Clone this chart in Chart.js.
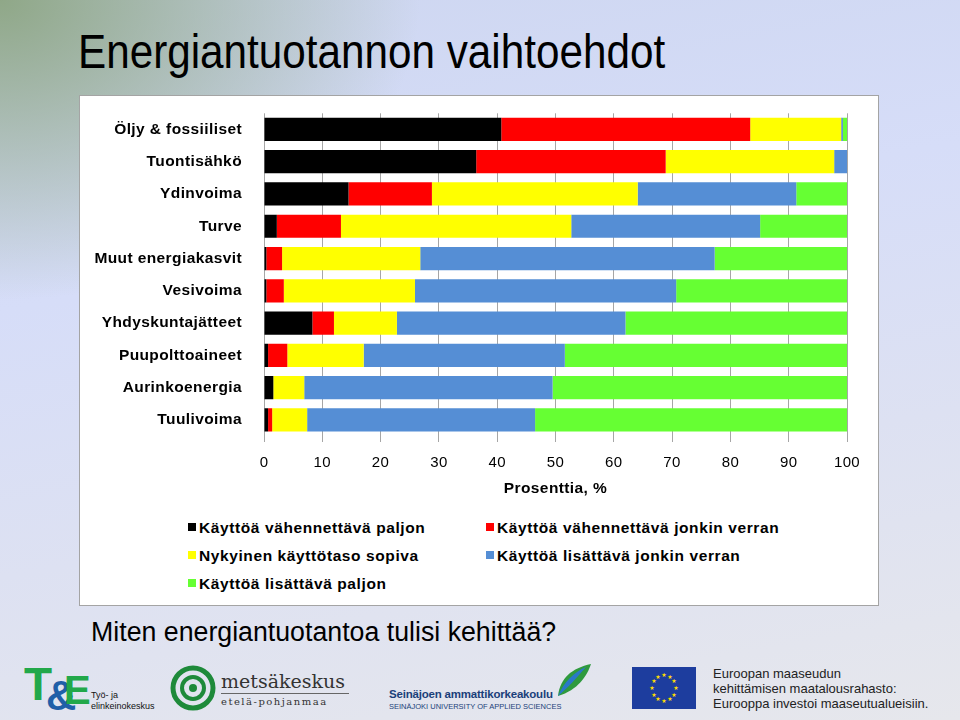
<!DOCTYPE html>
<html>
<head>
<meta charset="utf-8">
<script src="https://cdn.jsdelivr.net/npm/chart.js@4/dist/chart.umd.min.js"></script>
<style>
  body { margin: 0; }
  #slide {
    position: relative; width: 960px; height: 720px; overflow: hidden;
    font-family: "Liberation Sans", Arial, sans-serif;
    background:
      radial-gradient(ellipse 420px 300px at 0px 0px, rgba(140,165,130,0.95), rgba(160,180,170,0) 100%),
      linear-gradient(170deg, #cdd6f0 0%, #d6ddf8 35%, #dde1f2 65%, #e6e7ec 100%);
  }
  #title {
    position: absolute; left: 78px; top: 24px; font-size: 48px; color: #000;
    transform: scaleX(0.88); transform-origin: left top; white-space: nowrap;
  }
  #box {
    position: absolute; left: 79px; top: 95px; width: 798px; height: 509px;
    background: #fff; border: 1px solid #a4a4a4;
  }
  #chartWrap { position: absolute; left: 0; top: -6px; width: 798px; height: 408px; }
  #legend {
    position: absolute; left: 0; top: 423px; width: 798px; height: 85px;
    font-weight: bold; font-size: 15.5px; letter-spacing: 0.6px; color: #000;
  }
  .li { position: absolute; white-space: nowrap; line-height: 18px; }
  .li span.m { display: inline-block; width: 8px; height: 8px; margin-right: 3px; vertical-align: 2px; }
  #sub {
    position: absolute; left: 91px; top: 617px; font-size: 27px; color: #000;
    transform: scaleX(0.99); transform-origin: left top; white-space: nowrap;
  }
  .small { position: absolute; white-space: nowrap; color: #111; }
</style>
</head>
<body>
<div id="slide">
  <div id="title">Energiantuotannon vaihtoehdot</div>
  <div id="box">
    <div id="chartWrap"><canvas id="chart1"></canvas></div>
    <div id="legend"></div>
  </div>
  <div id="sub">Miten energiantuotantoa tulisi kehittää?</div>

  <!-- logos, rough -->
  <svg style="position:absolute;left:24px;top:662px" width="70" height="52">
    <text x="0" y="38" font-family="Liberation Sans" font-weight="bold" font-size="46" fill="#22a84a">T</text>
    <text x="22" y="48" font-family="Liberation Sans" font-weight="bold" font-size="42" fill="#1f5fa8">&amp;</text>
    <text x="40" y="42" font-family="Liberation Sans" font-weight="bold" font-size="40" fill="#22a84a">E</text>
  </svg>
  <div class="small" style="left:91px;top:690px;font-size:9px;line-height:11px">Työ- ja<br>elinkeinokeskus</div>

  <svg style="position:absolute;left:170px;top:664px" width="48" height="48">
    <circle cx="23" cy="24" r="20" fill="none" stroke="#1e8a3a" stroke-width="5"/>
    <circle cx="23" cy="24" r="11" fill="none" stroke="#1e8a3a" stroke-width="4"/>
    <circle cx="23" cy="24" r="4" fill="#1e8a3a"/>
  </svg>
  <div class="small" style="left:221px;top:670px;font-family:'DejaVu Serif';font-size:19px;color:#333">metsäkeskus</div>
  <div style="position:absolute;left:221px;top:693px;width:128px;height:1px;background:#666"></div>
  <div class="small" style="left:221px;top:696px;font-family:'DejaVu Serif';font-size:10px;letter-spacing:1.5px;color:#333">etelä-pohjanmaa</div>

  <div class="small" style="left:389px;top:688px;font-size:11.5px;font-weight:bold;color:#1b3f7a;letter-spacing:-0.2px">Seinäjoen ammattikorkeakoulu</div>
  <div class="small" style="left:389px;top:702px;font-size:7.5px;color:#1b3f7a">SEINÄJOKI UNIVERSITY OF APPLIED SCIENCES</div>
  <svg style="position:absolute;left:554px;top:662px" width="40" height="36">
    <path d="M4 34 C6 16 18 6 37 2 C33 14 24 28 4 34 Z" fill="#2f9a3e"/>
    <path d="M4 34 C10 20 20 10 32 5 C24 14 14 26 4 34 Z" fill="#2a78c8"/>
  </svg>

  <svg style="position:absolute;left:632px;top:667px" width="64" height="42">
    <rect width="64" height="42" fill="#1d3d9e"/>
    <g fill="#ffdd00" font-size="6" font-family="DejaVu Sans" text-anchor="middle">
      <text x="32" y="10">★</text><text x="38" y="12">★</text><text x="42" y="16">★</text>
      <text x="44" y="23">★</text><text x="42" y="30">★</text><text x="38" y="34">★</text>
      <text x="32" y="36">★</text><text x="26" y="34">★</text><text x="22" y="30">★</text>
      <text x="20" y="23">★</text><text x="22" y="16">★</text><text x="26" y="12">★</text>
    </g>
  </svg>
  <div class="small" style="left:713px;top:666px;font-size:13px;line-height:15px;color:#222">Euroopan maaseudun<br>kehittämisen maatalousrahasto:<br>Eurooppa investoi maaseutualueisiin.</div>
</div>

<script>
const categories = ['Öljy & fossiiliset', 'Tuontisähkö', 'Ydinvoima', 'Turve', 'Muut energiakasvit',
  'Vesivoima', 'Yhdyskuntajätteet', 'Puupolttoaineet', 'Aurinkoenergia', 'Tuulivoima'];

const seriesNames = ['Käyttöä vähennettävä paljon', 'Käyttöä vähennettävä jonkin verran',
  'Nykyinen käyttötaso sopiva', 'Käyttöä lisättävä jonkin verran', 'Käyttöä lisättävä paljon'];
const seriesColors = ['#000000', '#ff0000', '#ffff00', '#558ed5', '#66ff33'];

// percentages
const vahennettavaPaljon = [40.7, 36.4, 14.5, 2.2, 0.4, 0.4, 8.3, 0.7, 1.6, 0.7];
const vahennettavaJonkin = [42.7, 32.5, 14.3, 11.0, 2.7, 3.0, 3.7, 3.3, 0, 0.7];
const nykyinenSopiva = [15.6, 28.9, 35.3, 39.5, 23.7, 22.5, 10.8, 13.1, 5.3, 6.0];
const lisattavaJonkin = [0.3, 2.2, 27.2, 32.4, 50.5, 44.8, 39.2, 34.5, 42.6, 39.1];
const lisattavaPaljon = [0.7, 0, 8.7, 14.9, 22.7, 29.3, 38.0, 48.4, 50.5, 53.5];

const xTicks = [0, 10, 20, 30, 40, 50, 60, 70, 80, 90, 100];

const seriesData = [vahennettavaPaljon, vahennettavaJonkin, nykyinenSopiva, lisattavaJonkin, lisattavaPaljon];

const ctx = document.getElementById('chart1');

// the labels in the original are a little spaced out
const spacing = {
  id: 'spacing',
  beforeDraw: function(chart) { chart.ctx.letterSpacing = '0.4px'; },
};

const chart1 = new Chart(ctx, {
  type: 'bar',
  data: {
    labels: categories,
    datasets: seriesData.map(function(d, i) {
      return {
        label: seriesNames[i],
        data: d,
        backgroundColor: seriesColors[i],
        borderWidth: 0,
        barPercentage: 0.72,
        categoryPercentage: 1,
      };
    })
  },
  options: {
    indexAxis: 'y',
    responsive: true,
    maintainAspectRatio: false,
    animation: false,
    layout: { padding: { top: 12, right: 31, left: 0, bottom: 0 } },
    plugins: {
      legend: { display: false },
      tooltip: { enabled: false },
    },
    scales: {
      x: {
        stacked: true,
        min: 0,
        max: 100,
        afterBuildTicks: function(s) { s.ticks = xTicks.map(function(v) { return { value: v }; }); },
        grid: { color: '#a6a6a6', lineWidth: 1, tickLength: 6, drawTicks: true },
        border: { display: false },
        ticks: { color: '#000', font: { family: 'Liberation Sans', size: 15 }, padding: 12, maxRotation: 0 },
        title: {
          display: true, text: 'Prosenttia, %', color: '#000',
          font: { family: 'Liberation Sans', size: 15.5, weight: 'bold' }, padding: { top: 2, bottom: 0 }
        },
        afterFit: function(s) { s.height = 62; },
      },
      y: {
        stacked: true,
        grid: { display: false },
        border: { display: false },
        ticks: { color: '#000', font: { family: 'Liberation Sans', size: 15.5, weight: 'bold' }, padding: 14 },
        afterFit: function(s) { s.width = 184; },
      }
    }
  },
  plugins: [spacing],
});

// legend in two columns, like the original
const legendEl = document.getElementById('legend');
const legendPos = [[108, 0], [406, 0], [108, 28], [406, 28], [108, 56]];
seriesNames.forEach(function(name, i) {
  const item = document.createElement('div');
  item.className = 'li';
  item.style.left = legendPos[i][0] + 'px';
  item.style.top = legendPos[i][1] + 'px';
  item.innerHTML = '<span class="m" style="background:' + seriesColors[i] + '"></span>' + name;
  legendEl.appendChild(item);
});
</script>
</body>
</html>
